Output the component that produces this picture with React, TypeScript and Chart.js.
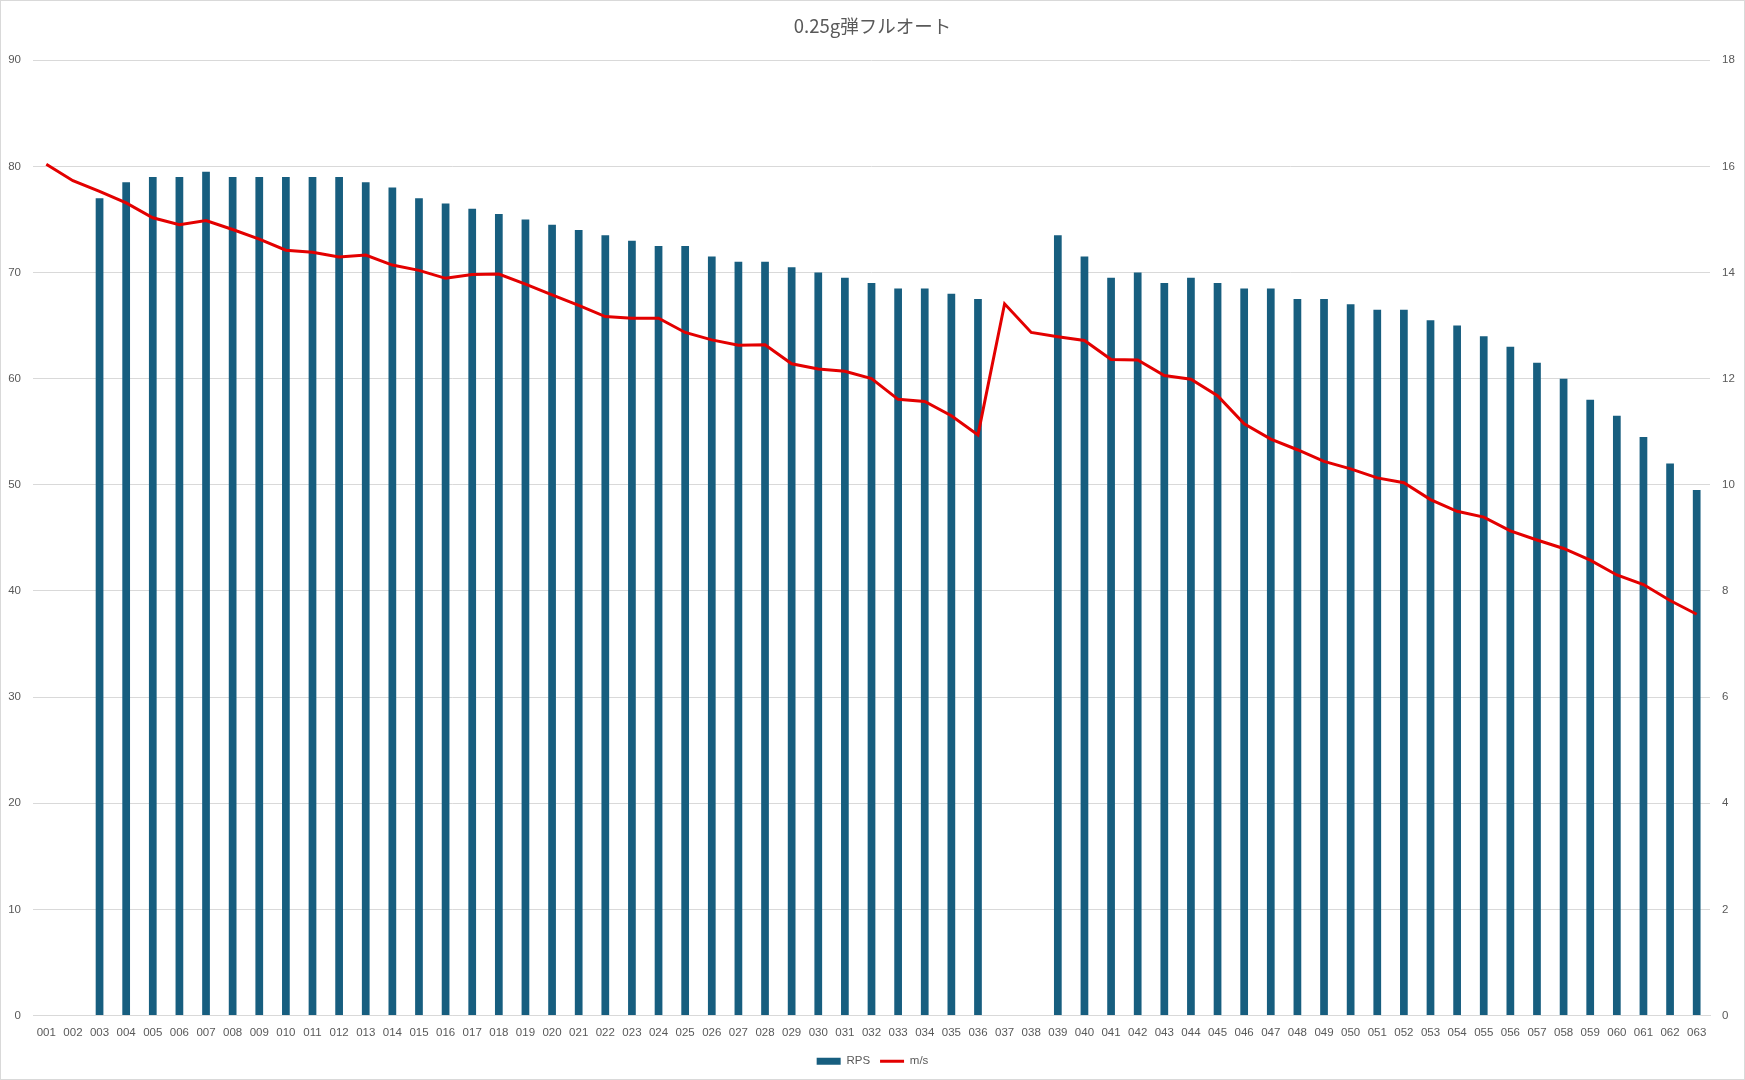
import React, { useEffect, useRef } from "react";
import { Chart, registerables } from "chart.js";

Chart.register(...registerables);

const categories = [
  "001","002","003","004","005","006","007","008","009","010",
  "011","012","013","014","015","016","017","018","019","020",
  "021","022","023","024","025","026","027","028","029","030",
  "031","032","033","034","035","036","037","038","039","040",
  "041","042","043","044","045","046","047","048","049","050",
  "051","052","053","054","055","056","057","058","059","060",
  "061","062","063",
];

const rpsValues: (number | null)[] = [
  null, null, 77, 78.5, 79, 79, 79.5, 79, 79, 79,
  79, 79, 78.5, 78, 77, 76.5, 76, 75.5, 75, 74.5,
  74, 73.5, 73, 72.5, 72.5, 71.5, 71, 71, 70.5, 70,
  69.5, 69, 68.5, 68.5, 68, 67.5, null, null, 73.5, 71.5,
  69.5, 70, 69, 69.5, 69, 68.5, 68.5, 67.5, 67.5, 67,
  66.5, 66.5, 65.5, 65, 64, 63, 61.5, 60, 58, 56.5,
  54.5, 52, 49.5,
];

const msValues: number[] = [
  16.04, 15.73, 15.53, 15.31, 15.03, 14.9, 14.98, 14.81, 14.63, 14.42,
  14.38, 14.29, 14.33, 14.14, 14.04, 13.89, 13.96, 13.97, 13.78, 13.58,
  13.38, 13.17, 13.14, 13.14, 12.87, 12.73, 12.63, 12.64, 12.28, 12.18,
  12.14, 12.0, 11.61, 11.57, 11.3, 10.94, 13.41, 12.87, 12.79, 12.72,
  12.36, 12.35, 12.06, 11.99, 11.68, 11.15, 10.86, 10.66, 10.44, 10.3,
  10.13, 10.04, 9.72, 9.5, 9.39, 9.13, 8.96, 8.8, 8.58, 8.3,
  8.12, 7.82, 7.56,
];

const titleText = "0.25g弾フルオート";
const rpsLabel = "RPS";
const msLabel = "m/s";

const W = 1745;
const H = 1080;
const TEXT = "#595959";
const GRID = "#d9d9d9";
const FONT = "'Liberation Sans', Arial, sans-serif";

export default function App() {
  const ref = useRef<HTMLCanvasElement | null>(null);

  useEffect(() => {
    document.body.style.margin = "0";
    const canvas = ref.current;
    if (!canvas) return;
    const chart = new Chart(canvas, {
      type: "bar",
      data: {
        labels: categories,
        datasets: [
          {
            type: "line",
            label: msLabel,
            data: msValues,
            yAxisID: "y1",
            borderColor: "#e30000",
            backgroundColor: "#e30000",
            borderWidth: 3,
            pointRadius: 0,
            pointStyle: "line",
            tension: 0,
            order: 0,
          } as any,
          {
            type: "bar",
            label: rpsLabel,
            data: rpsValues,
            yAxisID: "y",
            backgroundColor: "#175e7f",
            borderWidth: 0,
            categoryPercentage: 1,
            barPercentage: 0.29,
            pointStyle: "rect",
            order: 1,
          } as any,
        ],
      },
      options: {
        responsive: false,
        animation: false,
        layout: { padding: { top: 0, left: 0, right: 0, bottom: 3 } },
        plugins: {
          title: {
            display: true,
            text: titleText,
            color: TEXT,
            font: { family: "'Noto Sans CJK JP', 'Noto Sans', sans-serif", size: 18.5, weight: "normal" },
            padding: { top: 15, bottom: 23 },
          },
          legend: {
            position: "bottom",
            reverse: true,
            labels: {
              color: TEXT,
              font: { family: FONT, size: 11.5 },
              usePointStyle: true,
              pointStyleWidth: 24,
              boxHeight: 7,
              padding: 10,
            },
          },
          tooltip: { enabled: false },
        },
        scales: {
          x: {
            grid: { display: false, drawTicks: false },
            border: { display: true, color: GRID },
            ticks: {
              color: TEXT,
              font: { family: FONT, size: 11.5 },
              padding: 10,
              maxRotation: 0,
              autoSkip: false,
            },
            afterFit: (s: any) => { s.height = 30; },
          },
          y: {
            position: "left",
            min: 0,
            max: 90,
            grid: { color: GRID, drawTicks: false, lineWidth: 1 },
            border: { display: false },
            ticks: {
              stepSize: 10,
              color: TEXT,
              font: { family: FONT, size: 11.5 },
              padding: 12,
            },
            afterFit: (s: any) => { s.width = 33; },
          },
          y1: {
            position: "right",
            min: 0,
            max: 18,
            grid: { drawOnChartArea: false, drawTicks: false },
            border: { display: false },
            ticks: {
              stepSize: 2,
              color: TEXT,
              font: { family: FONT, size: 11.5 },
              padding: 12,
            },
            afterFit: (s: any) => { s.width = 35; },
          },
        },
      } as any,
    });
    return () => chart.destroy();
  }, []);

  return (
    <div style={{ position: "fixed", left: 0, top: 0, width: W, height: H, background: "#fff" }}>
      <canvas ref={ref} width={W} height={H} style={{ display: "block", width: W, height: H }} />
      <div
        style={{
          position: "absolute",
          left: 0,
          top: 0,
          width: W,
          height: H,
          boxSizing: "border-box",
          border: "1px solid #d9d9d9",
          pointerEvents: "none",
        }}
      />
    </div>
  );
}
